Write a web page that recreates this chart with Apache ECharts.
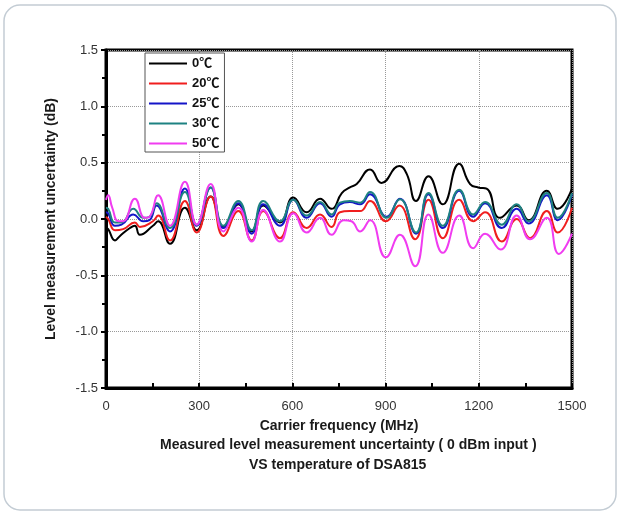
<!DOCTYPE html>
<html>
<head>
<meta charset="utf-8">
<script src="https://cdn.jsdelivr.net/npm/echarts@6/dist/echarts.min.js"></script>
<style>
  html, body { margin: 0; padding: 0; background: #fff; }
  #chart { width: 619px; height: 512px; }
</style>
</head>
<body>
<div id="chart"></div>
<script>
// [MHz, dB]
var temp0 = [[0,-0.08],[7,-0.09],[29,-0.19],[45,-0.15],[77,-0.08],[93,-0.06],[109,-0.14],[151,-0.06],[168,-0.02],[206,-0.22],[254,0.10],[292,-0.10],[337,0.20],[378,-0.07],[426,0.13],[469,-0.11],[506,0.12],[560,-0.03],[603,0.19],[646,0.06],[689,0.18],[726,0.09],[759,0.23],[785,0.28],[807,0.31],[850,0.44],[887,0.32],[944,0.47],[968,0.40],[998,0.16],[1038,0.38],[1084,0.13],[1137,0.49],[1172,0.31],[1198,0.28],[1225,0.27],[1268,0.01],[1322,0.12],[1360,-0.01],[1419,0.25],[1454,0.09],[1500,0.27]];
var temp20 = [[0,0.02],[7,0.0],[29,-0.10],[55,-0.09],[93,-0.03],[109,-0.07],[151,-0.02],[168,0.03],[206,-0.19],[254,0.16],[292,-0.12],[337,0.20],[378,-0.15],[426,0.07],[469,-0.19],[506,0.07],[560,-0.17],[603,0.06],[646,-0.08],[689,0.04],[726,-0.07],[753,0.06],[785,0.07],[818,0.07],[850,0.16],[901,-0.02],[944,0.12],[995,-0.18],[1038,0.17],[1084,-0.17],[1137,0.17],[1182,-0.02],[1220,0.06],[1274,-0.20],[1322,0.0],[1365,-0.17],[1419,0.07],[1454,-0.12],[1500,0.10]];
var temp25 = [[0,0.06],[7,0.05],[29,-0.06],[50,-0.05],[88,0.04],[120,-0.02],[140,-0.01],[163,0.12],[206,-0.11],[254,0.27],[292,-0.06],[337,0.28],[378,-0.08],[426,0.14],[469,-0.13],[506,0.13],[560,-0.06],[603,0.17],[646,0.01],[689,0.14],[726,0.02],[753,0.13],[785,0.15],[818,0.13],[850,0.22],[903,0.02],[946,0.18],[998,-0.13],[1038,0.22],[1084,-0.08],[1137,0.25],[1182,0.02],[1220,0.14],[1274,-0.08],[1322,0.09],[1360,-0.04],[1419,0.21],[1454,-0.01],[1500,0.22]];
var temp30 = [[0,0.10],[7,0.09],[29,-0.03],[50,-0.03],[88,0.09],[120,0.01],[140,0.02],[163,0.14],[206,-0.08],[254,0.24],[292,-0.05],[337,0.28],[378,-0.06],[426,0.16],[469,-0.10],[506,0.16],[560,-0.02],[603,0.17],[646,0.03],[689,0.15],[726,0.04],[753,0.145],[785,0.16],[818,0.145],[850,0.24],[903,0.01],[946,0.175],[998,-0.12],[1038,0.23],[1084,-0.06],[1137,0.26],[1182,0.04],[1220,0.15],[1274,-0.05],[1322,0.13],[1360,-0.02],[1419,0.23],[1454,0.01],[1500,0.23]];
var temp50 = [[0,0.17],[7,0.21],[20,0.10],[40,-0.02],[55,-0.02],[93,0.18],[125,0.01],[140,0.02],[168,0.21],[206,-0.06],[254,0.33],[292,-0.05],[337,0.31],[378,-0.11],[426,0.10],[469,-0.20],[506,0.08],[560,-0.20],[603,0.05],[646,-0.12],[689,0.01],[726,-0.14],[765,-0.01],[790,-0.02],[818,-0.11],[850,-0.01],[901,-0.34],[946,-0.14],[995,-0.42],[1038,0.04],[1084,-0.30],[1137,0.03],[1182,-0.26],[1220,-0.13],[1270,-0.27],[1322,0.03],[1365,-0.18],[1419,0.01],[1458,-0.31],[1500,-0.13]];

var names = ['0℃', '20℃', '25℃', '30℃', '50℃'];
var colors = ['#000000', '#f01e1e', '#1414c8', '#1e8282', '#f03cf0'];
var allData = [temp0, temp20, temp25, temp30, temp50];

var font = 'Liberation Sans, Arial, Noto Sans CJK SC, sans-serif';

var myChart = echarts.init(document.getElementById('chart'));

var series = [];
allData.forEach(function (d, i) {
  series.push({
    name: names[i],
    type: 'line',
    data: d,
    smooth: 0.5,
    symbol: 'none',
    lineStyle: { color: colors[i], width: 2 },
    itemStyle: { color: colors[i] },
    z: 3 + i
  });
});

var option = {
  animation: false,
  backgroundColor: '#fff',
  graphic: [
    {
      type: 'rect',
      z: -10,
      shape: { x: 4, y: 5, width: 612, height: 505, r: 16 },
      style: { fill: '#fff', stroke: '#c3ccd4', lineWidth: 1.5 }
    },
    {
      type: 'text',
      left: 160,
      top: 438,
      style: {
        text: 'Measured level measurement uncertainty ( 0 dBm input )',
        fill: '#1a1a1a', font: 'bold 14px ' + font
      }
    },
    {
      type: 'text',
      left: 249,
      top: 458,
      style: {
        text: 'VS temperature of DSA815',
        fill: '#1a1a1a', font: 'bold 14px ' + font
      }
    }
  ],
  legend: {
    orient: 'vertical',
    left: 145,
    top: 53,
    padding: [4, 5, 2, 3],
    itemWidth: 38,
    itemHeight: 14,
    itemGap: 7,
    borderColor: '#555',
    borderWidth: 1,
    backgroundColor: '#fff',
    itemStyle: { opacity: 0 },
    textStyle: { fontFamily: font, fontSize: 13, fontWeight: 'bold', color: '#111' },
    data: names
  },
  grid: {
    left: 106,
    right: 47,
    top: 50,
    bottom: 124,
    show: true,
    borderColor: '#000',
    borderWidth: 3
  },
  xAxis: {
    type: 'value',
    min: 0,
    max: 1500,
    interval: 300,
    name: 'Carrier frequency (MHz)',
    nameLocation: 'middle',
    nameGap: 31,
    nameTextStyle: { fontFamily: font, fontSize: 14, fontWeight: 'bold', color: '#1a1a1a' },
    axisLine: { onZero: false, lineStyle: { color: '#000', width: 3 } },
    axisTick: { inside: true, length: 5, lineStyle: { color: '#000', width: 2 } },
    minorTick: { show: true, splitNumber: 2, length: 5, lineStyle: { color: '#000', width: 2 } },
    axisLabel: {
      fontFamily: font, fontSize: 13, color: '#333', margin: 12,
      formatter: function (v) { return String(v); }
    },
    splitLine: { show: true, lineStyle: { color: '#999', type: 'dotted', width: 1 } }
  },
  yAxis: {
    type: 'value',
    min: -1.5,
    max: 1.5,
    interval: 0.5,
    name: 'Level measurement uncertainty (dB)',
    nameLocation: 'middle',
    nameGap: 48,
    nameTextStyle: { fontFamily: font, fontSize: 14, fontWeight: 'bold', color: '#1a1a1a' },
    axisLine: { onZero: false, lineStyle: { color: '#000', width: 3 } },
    axisTick: { inside: false, length: 5, lineStyle: { color: '#000', width: 2 } },
    minorTick: { show: true, splitNumber: 2, length: 4, lineStyle: { color: '#000', width: 2 } },
    axisLabel: {
      fontFamily: font, fontSize: 13, color: '#333', margin: 8,
      formatter: function (v) { return v.toFixed(1); }
    },
    splitLine: { show: true, lineStyle: { color: '#999', type: 'dotted', width: 1 } }
  },
  series: series
};

myChart.setOption(option);
</script>
</body>
</html>
